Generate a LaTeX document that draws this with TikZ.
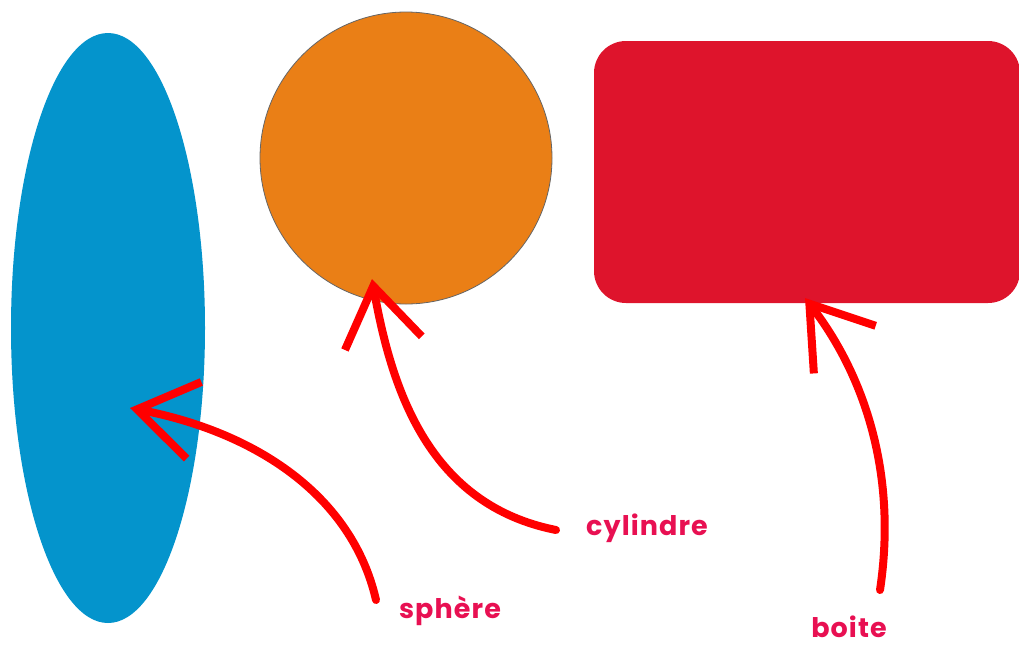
\documentclass[tikz,border=0pt]{standalone}
\usepackage{fontspec}
\usepackage{tikz}
\usetikzlibrary{shapes.geometric,arrows.meta}
\newfontfamily\labelfont{Poppins}[LetterSpace=4]
\definecolor{shape-blue}{RGB}{4,148,204}
\definecolor{shape-orange}{RGB}{234,127,22}
\definecolor{shape-red}{RGB}{222,20,44}
\definecolor{arrow-red}{RGB}{255,0,0}
\definecolor{label-pink}{RGB}{232,16,82}

\begin{document}
\begin{tikzpicture}[x=1pt,y=-1pt,
    solid/.style={inner sep=0pt, outer sep=0pt},
    lbl/.style={text=label-pink, font=\labelfont\bfseries\fontsize{27}{30}\selectfont},
    hand/.style={arrow-red, line width=8pt, line cap=round,
        -{Straight Barb[length=58pt,width=78pt,line width=8pt]}}]

\useasboundingbox (0,0) rectangle (1019,646);

% Shapes
\node[solid, ellipse, fill=shape-blue, minimum width=194pt, minimum height=590pt]
    (blob) at (108,328) {};
\node[solid, circle, fill=shape-orange, draw=gray!80!black, line width=0.8pt, minimum size=292pt]
    (disc) at (406,158) {};
\node[solid, rectangle, fill=shape-red, rounded corners=32pt, minimum width=426pt, minimum height=262pt]
    (slab) at (807,172) {};

% Labels
\node[lbl] (sphere) at (450,611) {sphère};
\node[lbl] (cyl)    at (647,528) {cylindre};
\node[lbl] (box)    at (849,627) {boite};

% Arrow ends
\coordinate (sphere-tail) at (376,600);
\coordinate (sphere-tip)  at (130,408);
\coordinate (cyl-tail)    at (556,530);
\coordinate (cyl-tip)     at (372,279);
\coordinate (box-tail)    at (880,590);
\coordinate (box-tip)     at (805,298);

% Arrows
\draw[hand] (sphere-tail) .. controls (352,495) and (255,432) .. (sphere-tip);
\draw[hand] (cyl-tail) .. controls (430,505) and (392,392) .. (cyl-tip);
\draw[hand] (box-tail) .. controls (898,470) and (862,372) .. (box-tip);

\end{tikzpicture}
\end{document}
